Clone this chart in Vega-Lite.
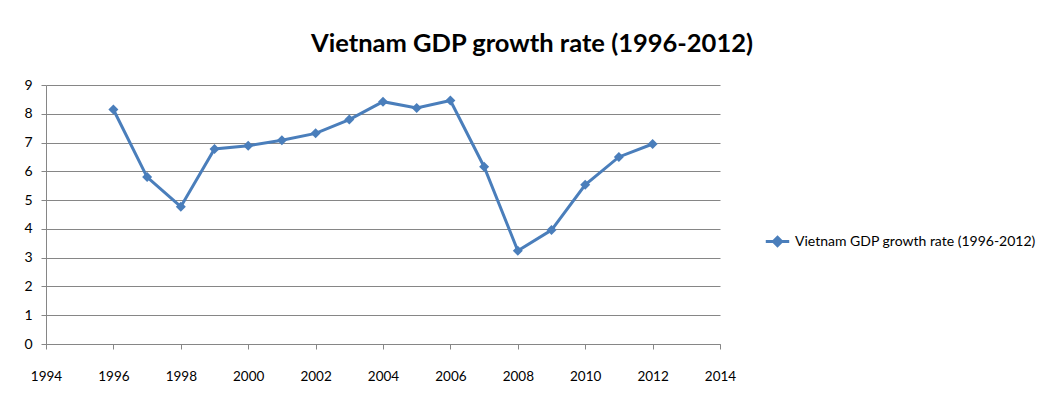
{
  "$schema": "https://vega.github.io/schema/vega-lite/v6.json",
  "autosize": "none",
  "width": 674,
  "height": 259,
  "padding": {"left": 46, "top": 85, "right": 336, "bottom": 57},
  "background": "white",
  "title": {
    "text": "Vietnam GDP growth rate (1996-2012)",
    "font": "Lato",
    "fontSize": 25.5,
    "fontWeight": "bold",
    "color": "#000000",
    "anchor": "middle",
    "dx": 149,
    "offset": 21
  },
  "data": {
    "values": [
      {"year": 1996, "rate": 8.15, "series": "Vietnam GDP growth rate (1996-2012)"},
      {"year": 1997, "rate": 5.8, "series": "Vietnam GDP growth rate (1996-2012)"},
      {"year": 1998, "rate": 4.77, "series": "Vietnam GDP growth rate (1996-2012)"},
      {"year": 1999, "rate": 6.78, "series": "Vietnam GDP growth rate (1996-2012)"},
      {"year": 2000, "rate": 6.89, "series": "Vietnam GDP growth rate (1996-2012)"},
      {"year": 2001, "rate": 7.08, "series": "Vietnam GDP growth rate (1996-2012)"},
      {"year": 2002, "rate": 7.32, "series": "Vietnam GDP growth rate (1996-2012)"},
      {"year": 2003, "rate": 7.8, "series": "Vietnam GDP growth rate (1996-2012)"},
      {"year": 2004, "rate": 8.42, "series": "Vietnam GDP growth rate (1996-2012)"},
      {"year": 2005, "rate": 8.2, "series": "Vietnam GDP growth rate (1996-2012)"},
      {"year": 2006, "rate": 8.46, "series": "Vietnam GDP growth rate (1996-2012)"},
      {"year": 2007, "rate": 6.16, "series": "Vietnam GDP growth rate (1996-2012)"},
      {"year": 2008, "rate": 3.24, "series": "Vietnam GDP growth rate (1996-2012)"},
      {"year": 2009, "rate": 3.96, "series": "Vietnam GDP growth rate (1996-2012)"},
      {"year": 2010, "rate": 5.53, "series": "Vietnam GDP growth rate (1996-2012)"},
      {"year": 2011, "rate": 6.5, "series": "Vietnam GDP growth rate (1996-2012)"},
      {"year": 2012, "rate": 6.95, "series": "Vietnam GDP growth rate (1996-2012)"}
    ]
  },
  "mark": {
    "type": "line",
    "strokeWidth": 3,
    "point": {"shape": "diamond", "filled": true, "size": 100}
  },
  "encoding": {
    "x": {
      "field": "year",
      "type": "quantitative",
      "scale": {"domain": [1994, 2014], "nice": false, "zero": false},
      "axis": {
        "title": null,
        "values": [1994, 1996, 1998, 2000, 2002, 2004, 2006, 2008, 2010, 2012, 2014],
        "format": "d",
        "grid": false,
        "domainColor": "#868686",
        "tickColor": "#868686",
        "tickSize": 5,
        "labelPadding": 20,
        "labelFont": "Lato",
        "labelFontSize": 13.5,
        "labelColor": "#000000",
        "labelFlush": false
      }
    },
    "y": {
      "field": "rate",
      "type": "quantitative",
      "scale": {"domain": [0, 9], "nice": false},
      "axis": {
        "title": null,
        "values": [0, 1, 2, 3, 4, 5, 6, 7, 8, 9],
        "grid": true,
        "gridColor": "#868686",
        "gridOpacity": 1,
        "domainColor": "#868686",
        "tickColor": "#868686",
        "tickSize": 5,
        "labelPadding": 9,
        "labelFont": "Lato",
        "labelFontSize": 14,
        "labelColor": "#000000"
      }
    },
    "color": {
      "field": "series",
      "type": "nominal",
      "scale": {"range": ["#4A7EBB"]},
      "legend": {
        "title": null,
        "orient": "none",
        "legendX": 718,
        "legendY": 143,
        "symbolType": "M-1,0L1,0M0,-0.35L0.35,0L0,0.35L-0.35,0Z",
        "symbolSize": 550,
        "symbolStrokeWidth": 3,
        "symbolFillColor": "#4A7EBB",
        "labelFont": "Lato",
        "labelFontSize": 14,
        "labelLimit": 320,
        "labelColor": "#000000",
        "labelOffset": 4
      }
    }
  },
  "config": {"view": {"stroke": null}}
}
